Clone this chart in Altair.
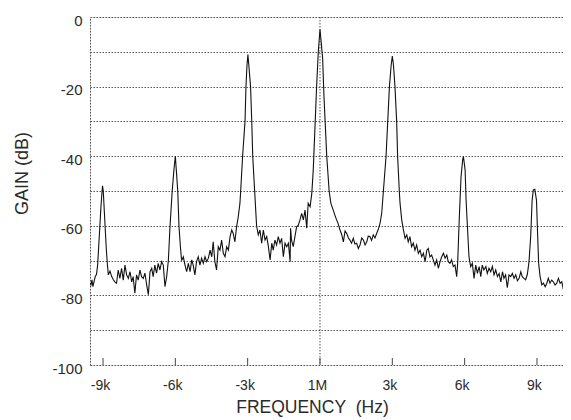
import altair as alt
import pandas as pd

# Frequency offset from the 1 MHz carrier, in kHz
freq_khz = [
    -9.54, -9.5, -9.46, -9.42, -9.37, -9.32, -9.27, -9.22, -9.18, -9.13, -9.09, -9.05, -9.02,
    -8.99, -8.96, -8.93, -8.9, -8.86, -8.82,
    -8.78, -8.71, -8.64, -8.57, -8.51, -8.44, -8.37, -8.3, -8.23, -8.16, -8.09, -8.02, -7.95,
    -7.88, -7.81, -7.75, -7.68, -7.61, -7.54, -7.47, -7.4, -7.33, -7.26, -7.19, -7.12, -7.05,
    -6.98, -6.92, -6.85, -6.78, -6.71, -6.64, -6.57, -6.5, -6.43, -6.36,
    -6.29, -6.22, -6.13, -6.06, -6.0, -5.96, -5.9, -5.85, -5.79, -5.74,
    -5.67, -5.6, -5.53, -5.46, -5.39, -5.32, -5.26, -5.19, -5.12, -5.05, -4.98, -4.91, -4.84,
    -4.77, -4.7, -4.63, -4.56, -4.49, -4.43, -4.36, -4.29, -4.22, -4.15, -4.08, -4.01, -3.94,
    -3.87, -3.8, -3.73, -3.66, -3.6, -3.53, -3.46, -3.39, -3.32,
    -3.29, -3.21, -3.11, -3.07, -3.03, -2.99, -2.95, -2.88, -2.83, -2.79, -2.71, -2.63,
    -2.56, -2.49, -2.42, -2.35, -2.28, -2.21, -2.14, -2.07, -2.0, -1.94, -1.87, -1.8, -1.73,
    -1.66, -1.59, -1.52, -1.45, -1.38, -1.31, -1.24, -1.22, -1.18, -1.11, -1.04, -0.97, -0.9,
    -0.83, -0.76, -0.69, -0.62, -0.55, -0.49, -0.41, -0.34,
    -0.28, -0.21, -0.14, -0.07, 0.0, 0.06, 0.11, 0.16, 0.22, 0.28, 0.38,
    0.45, 0.55, 0.62, 0.69, 0.76, 0.83, 0.9, 0.97, 1.04, 1.11, 1.18, 1.24, 1.31, 1.38, 1.45,
    1.52, 1.59, 1.66, 1.73, 1.8, 1.87, 1.94, 2.0, 2.07, 2.14, 2.21, 2.28, 2.35, 2.42, 2.49, 2.56,
    2.63, 2.74, 2.81, 2.88, 2.95, 3.0, 3.05, 3.11, 3.18, 3.22, 3.29,
    3.32, 3.39, 3.46, 3.53, 3.6, 3.66, 3.73, 3.8, 3.87, 3.94, 4.01, 4.08, 4.15, 4.22, 4.29,
    4.36, 4.43, 4.49, 4.56, 4.63, 4.7, 4.77, 4.84, 4.91, 4.98, 5.05, 5.12, 5.19, 5.26, 5.32,
    5.39, 5.46, 5.53, 5.6, 5.67, 5.71,
    5.78, 5.85, 5.92, 5.95, 6.02, 6.06, 6.13, 6.18, 6.25,
    6.32, 6.39, 6.46, 6.53, 6.6, 6.67, 6.73, 6.8, 6.88, 6.94, 7.01, 7.08, 7.15, 7.22, 7.29,
    7.36, 7.43, 7.5, 7.57, 7.63, 7.7, 7.77, 7.84, 7.91, 7.98, 8.05, 8.12, 8.19, 8.26, 8.33,
    8.39, 8.46, 8.53, 8.6, 8.67,
    8.74, 8.8, 8.85, 8.91, 8.98, 9.03, 9.07, 9.13,
    9.2, 9.27, 9.34, 9.41, 9.47, 9.54, 9.61, 9.68, 9.75, 9.82, 9.89, 9.96, 10.03, 10.1, 10.17,
    10.24, 10.3, 10.37,
]

gain_db = [
    -76.5, -77, -75.5, -77.5, -76, -74.5, -74, -71, -66, -60, -55, -51, -48.5,
    -50, -54, -58, -62, -67, -71,
    -74.1, -73, -74.6, -75.5, -76.1, -76.5, -72.7, -75.1, -72.2, -75.6, -71.3, -74.1, -75.1,
    -73.2, -76.1, -74.6, -79.4, -74.1, -75.6, -72.7, -74.6, -75.1, -73.6, -77, -79.8, -73.2,
    -72.2, -74.6, -71.3, -73.6, -70.8, -72.7, -70.3, -71.3, -77.5, -74.6,
    -70, -60, -50, -44, -40, -44, -50, -60, -66, -70,
    -68.9, -71.3, -73.2, -70.8, -73.2, -69.8, -71.3, -74.1, -70.3, -68.9, -71.3, -69.3, -70.8,
    -68.9, -70.3, -69.3, -67, -68.9, -64.6, -70.3, -72.7, -66, -67, -64.1, -67.9, -68.9,
    -66, -67, -63.1, -61.2, -62.2, -64.6, -60.3, -57.4, -53.5,
    -50, -40, -30, -20, -14, -10.8, -14, -20, -30, -40, -50, -60,
    -62.6, -61.2, -65, -61.2, -64.1, -63.1, -66, -69.8, -65, -67, -64.1, -65.5, -63.1,
    -65, -63.6, -68.9, -65, -66, -65, -70.3, -60.7, -64.1, -66, -63.1, -60.3, -59.8,
    -58.3, -56.4, -58.3, -55.5, -60.7, -53.5, -54.5, -50.7,
    -44, -32, -20, -10, -3.5, -8, -12, -22, -31, -40, -50,
    -53.5, -55.5, -57, -58.3, -59.5, -61.2, -62.5, -64.6, -61.5, -62.2, -63.5, -64.1, -65, -63.6, -65.2,
    -65, -66.5, -65.5, -63.5, -64.1, -65.5, -64.6, -63, -63.1, -64.2, -62.6, -63.5, -62.2, -61, -59.3, -56.4,
    -50, -40, -30, -20, -14, -11.2, -14, -20, -30, -40, -50,
    -53.5, -58.3, -61.2, -63.6, -62.6, -64.6, -63.1, -66, -65, -67, -65.5, -67.9, -67, -68.9, -67.9,
    -70.3, -67, -66.5, -68.9, -68.4, -69.8, -71.3, -69.8, -72.2, -70.3, -68.9, -67.9, -69.3, -68.4, -70.3,
    -70.8, -69.8, -71.7, -71.3, -74.6, -70.8,
    -57.4, -46, -41, -40.1, -44, -52.6, -62.2, -68.9, -71.7,
    -70.8, -75.1, -71.3, -73.7, -71.7, -74.6, -71.3, -72.7, -71.7, -73.7, -72.2, -73.2, -71.7, -74.1, -72.7,
    -74.6, -73.7, -76.1, -73.2, -75.1, -74.1, -77.8, -74.1, -74.6, -73.7, -75.1, -74.1, -75.8, -75.1, -73.2,
    -74.6, -75.1, -75.5, -74, -70.3,
    -63.1, -52.6, -49.7, -49.5, -52.6, -63.1, -70.8, -74.6,
    -77, -76.5, -77.5, -76.5, -75.1, -76.5, -75.6, -76.1, -77, -76.5, -75.1, -76.5, -76.1, -78.5, -76.5,
    -76.1, -78, -78.4,
]

y_grid_levels = [0, -10, -20, -30, -40, -50, -60, -70, -80, -90, -100]
x_tick_values = [-9, -6, -3, 0, 3, 6, 9]
carrier = [0]

FONT = "Liberation Sans"
TEXT = "#2a2a2a"
GRID = "#555555"

xscale = alt.Scale(domain=[-9.54, 10.08], nice=False, zero=False)
yscale = alt.Scale(domain=[-100, 0], nice=False, zero=False)

df = pd.DataFrame({"f": freq_khz, "g": gain_db})

xaxis = alt.Axis(
    values=x_tick_values,
    labelExpr="datum.value == 0 ? '1M' : datum.value + 'k'",
    grid=False, domain=False, ticks=False,
    labelFont=FONT, labelFontSize=14, labelColor=TEXT, labelPadding=13, labelOffset=-3,
    title="FREQUENCY\u00a0 (Hz)", titleFont=FONT, titleFontSize=17.5, titleFontWeight="normal",
    titleColor=TEXT, titleX=222, titleY=47, titleBaseline="alphabetic", titleAnchor="start",
    titleAlign="center",
)
yaxis = alt.Axis(
    values=y_grid_levels,
    labelExpr="datum.value % 20 == 0 ? datum.value + '' : ''",
    grid=True, gridDash=[1.5, 1.5], gridColor=GRID, gridOpacity=1, gridWidth=1,
    domain=True, domainDash=[1.5, 1.5], domainColor=GRID, domainWidth=1,
    ticks=False,
    labelFont=FONT, labelFontSize=15, labelColor=TEXT, labelPadding=8, labelOffset=3,
    title="GAIN (dB)", titleFont=FONT, titleFontSize=18, titleFontWeight="normal",
    titleColor=TEXT, titleX=-68, titleY=156, titleAngle=-90, titleBaseline="middle",
    titleAlign="center", titleAnchor="start",
)

trace = alt.Chart(df).mark_line(color="#111111", strokeWidth=1.1, clip=True).encode(
    x=alt.X("f:Q", scale=xscale, axis=xaxis),
    y=alt.Y("g:Q", scale=yscale, axis=yaxis),
)

carrier_line = alt.Chart(pd.DataFrame({"f": carrier})).mark_rule(
    color=GRID, strokeDash=[1.5, 1.5], strokeWidth=1
).encode(x=alt.X("f:Q", scale=xscale))

ticks = alt.Chart(pd.DataFrame({"f": x_tick_values})).mark_rule(
    color="#444444", strokeWidth=1
).encode(x=alt.X("f:Q", scale=xscale), y=alt.value(348), y2=alt.value(341))

chart = alt.layer(carrier_line, ticks, trace).properties(
    width=473, height=348,
    autosize=alt.AutoSizeParams(type="none"),
    padding={"left": 82, "top": 9, "right": 0, "bottom": 53},
).configure_view(stroke=None).configure(background="white")

chart.save("out.html", embed_options={"renderer": "svg", "actions": False})
